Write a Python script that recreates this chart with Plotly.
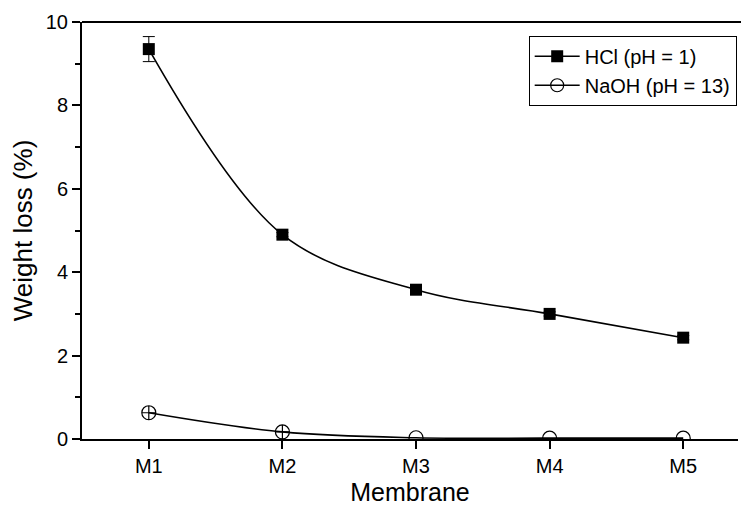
import plotly.graph_objects as go

membranes = ["M1", "M2", "M3", "M4", "M5"]
xpos = [1, 2, 3, 4, 5]
hcl = [9.35, 4.9, 3.58, 3.0, 2.43]
hcl_err = [0.3, 0.05, 0.05, 0.05, 0.05]
naoh = [0.63, 0.17, 0.03, 0.02, 0.02]
naoh_symbols = ["circle-cross-open", "circle-cross-open", "circle-open", "circle-open", "circle-open"]

FONT = "Liberation Sans, Arial, Helvetica, sans-serif"

fig = go.Figure()
fig.add_trace(go.Scatter(
    x=xpos, y=hcl, name="HCl (pH = 1)", mode="lines+markers",
    line=dict(color="black", width=1.6, shape="spline", smoothing=1.0),
    marker=dict(symbol="square", size=12, color="black"),
    error_y=dict(type="data", array=hcl_err, color="black", thickness=1, width=6),
    cliponaxis=False,
))
fig.add_trace(go.Scatter(
    x=xpos, y=naoh, name="NaOH (pH = 13)", mode="lines+markers",
    line=dict(color="black", width=1.6, shape="spline", smoothing=1.0),
    marker=dict(symbol=naoh_symbols, size=14, color="black", line=dict(width=1.2, color="black")),
    cliponaxis=True, showlegend=False,
))
fig.add_trace(go.Scatter(
    x=[None], y=[None], name="NaOH (pH = 13)", mode="lines+markers",
    line=dict(color="black", width=1.6),
    marker=dict(symbol="circle-open", size=13, color="black", line=dict(width=1.2, color="black")),
))

# top frame line (runs off the right edge like the reference)
fig.add_shape(type="line", xref="paper", yref="paper", x0=0, x1=1.05, y0=1, y1=1,
              line=dict(color="black", width=2))

fig.update_layout(
    width=741, height=506,
    margin=dict(l=82, r=3, t=22, b=67, autoexpand=False),
    paper_bgcolor="white", plot_bgcolor="white",
    font=dict(family=FONT, color="black", size=20),
    showlegend=True,
    legend=dict(
        x=0.998, y=0.967, xanchor="right", yanchor="top",
        bordercolor="black", borderwidth=1, bgcolor="white",
        font=dict(size=20, family=FONT), tracegroupgap=0,
        itemwidth=45,
    ),
    xaxis=dict(
        range=[0.5, 5.41], tickvals=xpos, ticktext=membranes,
        showgrid=False, zeroline=False, automargin=False,
        showline=True, linecolor="black", linewidth=2, mirror=False,
        ticks="outside", ticklen=8, tickwidth=2, tickcolor="black",
        tickfont=dict(size=20, family=FONT),
        title=dict(text="Membrane", font=dict(size=25, family=FONT), standoff=15),
    ),
    yaxis=dict(
        range=[0, 10], tickvals=[0, 2, 4, 6, 8, 10],
        showgrid=False, zeroline=False, automargin=False,
        showline=True, linecolor="black", linewidth=2, mirror=False,
        ticks="outside", ticklen=8, tickwidth=2, tickcolor="black",
        tickfont=dict(size=20, family=FONT),
        minor=dict(tickvals=[1, 3, 5, 7, 9], ticks="outside", ticklen=5, tickwidth=2, tickcolor="black"),
        title=dict(text="Weight loss (%)", font=dict(size=26, family=FONT), standoff=6),
    ),
)

fig.write_html("out.html")
